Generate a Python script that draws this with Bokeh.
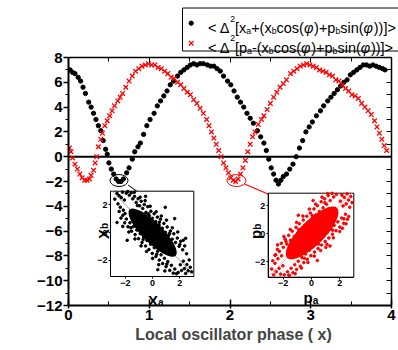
import math
from bokeh.plotting import figure
from bokeh.models import Range1d, LinearAxis, FixedTicker, ColumnDataSource, Label
from bokeh.core.properties import value, field
from bokeh.embed import file_html
from bokeh.resources import INLINE

# ---------------- data ----------------
black_x = [0.02, 0.05, 0.08, 0.12, 0.15, 0.18, 0.21, 0.25, 0.28, 0.31,
           0.34, 0.37, 0.40, 0.43, 0.46, 0.48, 0.50, 0.53, 0.56, 0.59,
           0.62, 0.65, 0.68, 0.72, 0.75, 0.79, 0.82, 0.86, 0.89, 0.93,
           0.97, 1.01, 1.06, 1.10, 1.14, 1.18, 1.22, 1.26, 1.30, 1.35,
           1.39, 1.43, 1.47, 1.51, 1.55, 1.59, 1.63, 1.67, 1.72, 1.76,
           1.80, 1.84, 1.88, 1.92, 1.97, 2.01, 2.05, 2.09, 2.13, 2.17,
           2.21, 2.25, 2.29, 2.34, 2.38, 2.42, 2.45, 2.48, 2.51, 2.54,
           2.57, 2.60, 2.63, 2.66, 2.70, 2.74, 2.78, 2.82, 2.86, 2.90,
           2.94, 2.98, 3.02, 3.07, 3.12, 3.16, 3.21, 3.25, 3.29, 3.33,
           3.37, 3.41, 3.45, 3.49, 3.53, 3.57, 3.61, 3.65, 3.69, 3.73,
           3.77, 3.81, 3.85, 3.89, 3.92]
black_y = [7.0, 6.8, 6.7, 6.4, 6.1, 5.6, 5.1, 4.4, 4.0, 3.5,
           3.0, 2.5, 2.1, 1.3, 0.6, 0.2, -0.5, -1.0, -1.4, -1.8,
           -2.0, -2.0, -1.8, -1.3, -0.9, -0.2, 0.4, 0.8, 1.1, 1.8,
           2.5, 3.0, 3.5, 4.1, 4.5, 4.9, 5.3, 5.8, 6.1, 6.5,
           6.8, 7.0, 7.2, 7.4, 7.5, 7.4, 7.5, 7.5, 7.4, 7.3,
           7.3, 7.1, 6.9, 6.5, 6.1, 5.8, 5.3, 4.8, 4.4, 4.0,
           3.5, 3.1, 2.7, 2.1, 1.6, 1.1, 0.5, -0.2, -0.9, -1.4,
           -1.9, -2.2, -1.9, -1.6, -1.4, -1.0, -0.6, 0.0, 0.7, 1.3,
           2.0, 2.4, 2.8, 3.3, 3.7, 4.1, 4.5, 4.8, 5.1, 5.4,
           5.7, 6.0, 6.2, 6.6, 6.8, 7.0, 7.2, 7.4, 7.4, 7.3,
           7.4, 7.3, 7.2, 7.1, 7.0]

red_x = [0.01, 0.03, 0.05, 0.08, 0.11, 0.14, 0.17, 0.20, 0.23, 0.26,
         0.28, 0.31, 0.33, 0.35, 0.37, 0.40, 0.42, 0.45, 0.48, 0.51,
         0.54, 0.57, 0.61, 0.64, 0.67, 0.71, 0.75, 0.79, 0.83, 0.87,
         0.91, 0.95, 0.99, 1.03, 1.07, 1.11, 1.15, 1.19, 1.23, 1.27,
         1.31, 1.35, 1.39, 1.43, 1.47, 1.51, 1.55, 1.59, 1.63, 1.67,
         1.71, 1.74, 1.77, 1.80, 1.83, 1.86, 1.89, 1.92, 1.95, 1.98,
         2.01, 2.04, 2.07, 2.10, 2.13, 2.16, 2.19, 2.22, 2.25, 2.28,
         2.31, 2.35, 2.39, 2.42, 2.46, 2.50, 2.54, 2.58, 2.62, 2.66,
         2.70, 2.75, 2.79, 2.83, 2.87, 2.91, 2.95, 2.99, 3.03, 3.07,
         3.11, 3.15, 3.19, 3.23, 3.27, 3.31, 3.35, 3.39, 3.43, 3.47,
         3.51, 3.55, 3.59, 3.63, 3.67, 3.71, 3.75, 3.79, 3.82, 3.85,
         3.88, 3.91, 3.94]
red_y = [0.7, 0.4, -0.1, -0.6, -1.0, -1.4, -1.7, -1.9, -1.9, -1.8,
         -1.5, -1.1, -0.5, 0.0, 0.8, 1.4, 1.9, 2.5, 2.9, 3.3,
         3.7, 4.1, 4.5, 4.8, 5.1, 5.6, 6.1, 6.5, 6.9, 7.1,
         7.3, 7.4, 7.5, 7.4, 7.4, 7.2, 7.1, 6.9, 6.7, 6.4,
         6.3, 6.0, 5.8, 5.5, 5.2, 5.0, 4.6, 4.3, 3.9, 3.5,
         3.0, 2.5, 2.0, 1.5, 1.0, 0.5, 0.0, -0.5, -0.9, -1.3,
         -1.7, -1.9, -2.0, -1.8, -1.4, -0.9, -0.3, 0.4, 1.0, 1.6,
         2.0, 2.6, 3.0, 3.3, 3.8, 4.3, 4.8, 5.2, 5.6, 5.9,
         6.2, 6.7, 6.9, 7.1, 7.3, 7.4, 7.5, 7.4, 7.3, 7.2,
         7.0, 6.9, 6.8, 6.6, 6.5, 6.2, 6.1, 5.8, 5.5, 5.3,
         5.0, 4.9, 4.7, 4.3, 4.0, 3.7, 3.4, 2.9, 2.4, 1.9,
         1.4, 0.9, 0.5]

x_ticks = [0, 1, 2, 3, 4]
x_minor = [0.5, 1.5, 2.5, 3.5]
y_ticks = [-12, -10, -8, -6, -4, -2, 0, 2, 4, 6, 8]
y_minor = [-11, -9, -7, -5, -3, -1, 1, 3, 5, 7]
y_right_ticks = list(range(-12, 9))
inset_ticks = [-2, 0, 2]

# inset scatter clouds: (x_a, x_b) and (p_a, p_b) -- fringe points around a dense core
inset_black_pts = [
    (-2.78, 2.41), (-2.62, 2.83), (-2.55, 2.07), (-2.47, 2.66), (-2.38, 1.83), (-2.31, 2.52),
    (-2.22, 2.91), (-2.16, 1.62), (-2.08, 2.35), (-2.03, 1.38),
    (-1.94, 2.84), (-1.83, 2.95), (-1.71, 2.69), (-1.58, 2.86), (-1.46, 2.43), (-1.33, 2.61),
    (-1.21, 2.17), (-1.07, 2.44), (-0.96, 1.93), (-0.84, 2.26), (-0.73, 1.74), (-0.61, 2.02),
    (-0.49, 1.46), (-0.36, 1.87), (-0.24, 1.21), (-0.13, 1.54), (-0.02, 1.03), (0.11, 1.36),
    (0.23, 0.79), (0.35, 1.12), (0.47, 0.55), (0.58, 0.97), (0.71, 0.32), (0.83, 0.66),
    (0.95, 0.02), (1.07, 0.41), (1.18, -0.19), (1.31, 0.12), (1.44, -0.47), (1.56, -0.08),
    (1.68, -0.71), (1.82, -0.39), (1.95, -0.98), (2.07, -0.62), (2.21, -1.23), (2.36, -0.95),
    (2.50, -1.52),
    (-2.46, 1.52), (-2.33, 1.05), (-2.19, 1.25), (-2.06, 0.71), (-1.93, 0.98), (-1.81, 0.42),
    (-1.67, 0.71), (-1.55, 0.11), (-1.41, 0.44), (-1.29, -0.14), (-1.16, 0.19), (-1.04, -0.43),
    (-0.91, -0.07), (-0.78, -0.71), (-0.66, -0.31), (-0.52, -0.96), (-0.41, -0.56), (-0.27, -1.21),
    (-0.15, -0.83), (-0.03, -1.49), (0.12, -1.08), (0.24, -1.71), (0.37, -1.34), (0.49, -1.97),
    (0.62, -1.59), (0.74, -2.22), (0.87, -1.84), (0.99, -2.44), (1.12, -2.08), (1.26, -2.71),
    (1.38, -2.35), (1.52, -2.91), (1.63, -2.61), (1.88, -2.86),
    (2.04, -2.31), (2.13, -2.72), (2.26, -2.05), (2.34, -2.58), (2.43, -2.93), (2.52, -2.29),
    (2.61, -2.74), (2.69, -1.96), (2.77, -2.49), (2.86, -2.81),
    (1.62, 1.01), (-1.87, -0.55), (0.93, 1.82), (-0.52, 2.61), (2.43, -0.41), (-2.62, 0.73),
    (0.38, -2.66),
    (-1.35, 2.90), (-0.92, 2.55), (-0.55, 2.30), (-0.18, 1.90), (0.26, 1.50), (0.64, 1.20),
    (1.02, 0.90), (1.45, 0.35), (1.85, 0.05), (2.25, -0.55), (-1.12, 1.95), (-0.30, 1.35),
    (0.50, 0.75), (1.25, -0.05), (2.00, -0.85),
    (-2.20, 0.45), (-1.75, 0.05), (-1.30, -0.45), (-0.85, -0.95), (-0.45, -1.35), (0.00, -1.85),
    (0.45, -2.30), (0.90, -2.75), (-1.60, 0.35), (-0.70, -0.50), (0.30, -1.55), (1.05, -2.25),
    (1.75, -2.95),
]
inset_red_pts = [
    (-2.81, -2.52), (-2.67, -2.93), (-2.58, -2.11), (-2.49, -2.71), (-2.37, -1.79), (-2.29, -2.47),
    (-2.18, -2.88), (-2.11, -1.58), (-2.02, -2.29), (-2.74, -1.93),
    (-2.52, -1.51), (-2.41, -1.12), (-2.27, -1.26), (-2.13, -0.69), (-1.99, -0.97), (-1.86, -0.39),
    (-1.74, -0.74), (-1.61, -0.12), (-1.48, -0.47), (-1.36, 0.18), (-1.22, -0.21), (-1.09, 0.45),
    (-0.97, 0.04), (-0.85, 0.71), (-0.72, 0.31), (-0.58, 0.97), (-0.46, 0.56), (-0.33, 1.24),
    (-0.21, 0.82), (-0.08, 1.47), (0.05, 1.07), (0.18, 1.76), (0.31, 1.33), (0.43, 1.99),
    (0.56, 1.58), (0.69, 2.27), (0.82, 1.84), (0.94, 2.48), (1.07, 2.09), (1.19, 2.71),
    (1.33, 2.36), (1.46, 2.87), (1.58, 2.61), (1.77, 2.79),
    (-1.92, -2.93), (-1.69, -2.71), (-1.55, -2.98), (-1.44, -2.46), (-1.31, -2.78), (-1.18, -2.21),
    (-1.05, -2.55), (-0.93, -1.96), (-0.79, -2.32), (-0.67, -1.71), (-0.54, -2.06), (-0.41, -1.45),
    (-0.29, -1.82), (-0.16, -1.19), (-0.04, -1.57), (0.09, -0.94), (0.22, -1.31), (0.34, -0.69),
    (0.47, -1.06), (0.59, -0.43), (0.72, -0.81), (0.85, -0.18), (0.97, -0.55), (1.11, 0.08),
    (1.23, -0.31), (1.36, 0.33), (1.49, -0.04), (1.61, 0.59), (1.74, 0.21), (1.87, 0.84),
    (2.01, 0.47), (2.14, 1.11), (2.28, 0.73), (2.41, 1.38), (2.55, 1.02),
    (2.05, 2.31), (2.16, 2.74), (2.24, 1.97), (2.33, 2.58), (2.46, 2.12), (2.52, 2.83),
    (2.63, 2.39), (2.71, 1.88), (2.79, 2.64), (2.88, 2.21),
    (0.42, -1.91), (1.31, -0.88), (2.19, 0.38), (2.64, 1.22), (-0.93, 1.31), (-2.58, -1.53),
    (0.12, 2.36), (1.02, -0.98),
    (-2.40, -0.80), (-1.95, -0.20), (-1.50, 0.30), (-1.05, 0.80), (-0.60, 1.25), (-0.15, 1.75),
    (0.30, 2.10), (0.75, 2.60), (1.15, 2.85), (-1.80, -0.55), (-0.90, 0.30), (0.05, 1.30),
    (0.95, 2.20),
    (-1.60, -2.95), (-1.15, -2.85), (-0.70, -2.45), (-0.25, -2.05), (0.20, -1.60), (0.65, -1.20),
    (1.10, -0.75), (1.55, -0.30), (2.00, 0.15), (2.45, 0.70), (-0.50, -1.75), (0.50, -0.75),
    (1.50, 0.25), (2.30, 1.05),
]
# dense core of each cloud: centre x, centre y, full length along / across the correlation axis
inset_black_core = [0.0, 0.0, 4.8, 1.45]
inset_red_core = [0.05, 0.05, 5.0, 1.75]

legend_row1 = [("< \u0394", "n"), ("2", "sup"), ("[x", "n"), ("a", "sub"), ("+(x", "n"), ("b", "sub"),
               ("cos(", "n"), ("\u03c6", "it"), (")+p", "n"), ("b", "sub"), ("sin(", "n"),
               ("\u03c6", "it"), ("))]>", "n")]
legend_row2 = [("< \u0394", "n"), ("2", "sup"), ("[p", "n"), ("a", "sub"), ("-(x", "n"), ("b", "sub"),
               ("cos(", "n"), ("\u03c6", "it"), (")+p", "n"), ("b", "sub"), ("sin(", "n"),
               ("\u03c6", "it"), ("))]>", "n")]

FONT = "Liberation Sans"

# ---------------- layout (picture pixels) ----------------
W, H = 398, 350
FRAME_L, FRAME_R, FRAME_T, FRAME_B = 68.0, 398.0, 0.0, 305.0
X0_PX, X4_PX = 68.0, 391.0      # phase 0 and 4
YB_PX, YT_PX = 305.0, 57.0      # -12 dB and 8 dB


def span_range(v0, p0, v1, p1, lo, hi):
    k = (v1 - v0) / (p1 - p0)
    return Range1d(start=v0 + (lo - p0) * k, end=v0 + (hi - p0) * k)


def px(page_x):
    return x_ticks[0] + (page_x - X0_PX) * (x_ticks[-1] - x_ticks[0]) / (X4_PX - X0_PX)


def py(page_y):
    return y_ticks[0] + (YB_PX - page_y) * (y_ticks[-1] - y_ticks[0]) / (YB_PX - YT_PX)


x_range = span_range(x_ticks[0], X0_PX, x_ticks[-1], X4_PX, FRAME_L, FRAME_R)
y_range = span_range(y_ticks[0], -YB_PX, y_ticks[-1], -YT_PX, -FRAME_B, -FRAME_T)

p = figure(width=W, height=H, x_range=x_range, y_range=y_range,
           output_backend="svg", toolbar_location=None, title=None,
           min_border_left=int(FRAME_L), min_border_right=0, min_border_top=0,
           min_border_bottom=int(H - FRAME_B),
           outline_line_color=None, background_fill_color="white", border_fill_color="white")
p.xgrid.visible = False
p.ygrid.visible = False

xa = p.below[0]
ya = p.left[0]


def style_labels(ax, size, bold=True):
    ax.major_label_text_font = FONT
    ax.major_label_text_font_size = size
    ax.major_label_text_font_style = "bold" if bold else "normal"
    ax.major_label_text_color = "black"


xa.ticker = FixedTicker(ticks=x_ticks, minor_ticks=x_minor)
xa.bounds = (x_ticks[0], x_ticks[-1])
xa.axis_line_width = 2
xa.major_tick_line_width = 1.5
xa.major_tick_in, xa.major_tick_out = 6, 3
xa.minor_tick_in, xa.minor_tick_out = 4, 0
style_labels(xa, "15px")
xa.major_label_standoff = 1
xa.axis_label = "Local oscillator phase ( x)"
xa.axis_label_text_font = FONT
xa.axis_label_text_font_size = "16px"
xa.axis_label_text_font_style = "bold"
xa.axis_label_standoff = 3

ya.ticker = FixedTicker(ticks=y_ticks, minor_ticks=y_minor)
ya.bounds = (y_ticks[0], y_ticks[-1])
ya.axis_line_width = 2
ya.major_tick_line_width = 1.5
ya.major_tick_in, ya.major_tick_out = 0, 5
ya.minor_tick_in, ya.minor_tick_out = 0, 3
style_labels(ya, "15px")
ya.major_label_standoff = 1

top = LinearAxis(fixed_location=y_ticks[-1], bounds=(x_ticks[0], x_ticks[-1]),
                 ticker=FixedTicker(ticks=x_ticks, minor_ticks=x_minor),
                 major_tick_in=5, major_tick_out=0, minor_tick_in=4, minor_tick_out=0,
                 major_label_text_color=None, major_label_text_font_size="0px",
                 axis_line_width=1.5)
p.add_layout(top, "above")
right = LinearAxis(fixed_location=x_ticks[-1], bounds=(y_ticks[0], y_ticks[-1]),
                   ticker=FixedTicker(ticks=y_right_ticks, minor_ticks=[]),
                   major_tick_in=5, major_tick_out=0, minor_tick_in=0, minor_tick_out=0,
                   major_label_text_color=None, major_label_text_font_size="0px",
                   axis_line_width=1.5)
p.add_layout(right, "right")

# zero line
p.segment(x0=[x_ticks[0]], y0=[0], x1=[x_ticks[-1]], y1=[0], line_color="black", line_width=2)

# main series
p.scatter(black_x, black_y, marker="circle", size=4.3, color="black")
p.scatter(red_x, red_y, marker="x", size=6.5, line_color="red", line_width=1.3)

# circles marking the minima, and connector lines
p.ellipse(x=[px(118.5)], y=[py(180)], width=18, height=12, width_units="screen",
          height_units="screen", fill_color=None, line_color="black", line_width=1)
p.ellipse(x=[px(236)], y=[py(180)], width=19, height=12, width_units="screen",
          height_units="screen", fill_color=None, line_color="red", line_width=1)
p.segment(x0=[px(127.5)], y0=[py(184.5)], x1=[px(137.5)], y1=[py(191.5)],
          line_color="black", line_width=1)
p.segment(x0=[px(244)], y0=[py(183.5)], x1=[px(267.5)], y1=[py(193.5)],
          line_color="red", line_width=1.2)

# ---------------- insets ----------------
INSETS = [
    dict(name="a", box=(110.0, 193.3, 190.7, 276.0), xr=(-3.1, 3.03), yr=(-3.15, 2.98),
         pts=inset_black_pts, core=inset_black_core, angle=-math.pi / 4, slope=-1,
         color="black", diag="#8a8a8a"),
    dict(name="b", box=(267.7, 353.3, 192.7, 276.7), xr=(-3.06, 3.0), yr=(-3.1, 2.88),
         pts=inset_red_pts, core=inset_red_core, angle=math.pi / 4, slope=1,
         color="red", diag="#f0a0a0"),
]

for ins in INSETS:
    l, r, t, b = ins["box"]
    xr0, xr1 = ins["xr"]
    yr0, yr1 = ins["yr"]
    xn, yn = "ix" + ins["name"], "iy" + ins["name"]
    p.extra_x_ranges[xn] = span_range(xr0, l, xr1, r, FRAME_L, FRAME_R)
    p.extra_y_ranges[yn] = span_range(yr0, -b, yr1, -t, -FRAME_B, -FRAME_T)
    kw = dict(x_range_name=xn, y_range_name=yn)
    p.quad(left=[xr0], right=[xr1], bottom=[yr0], top=[yr1], fill_color="white",
           line_color="black", line_width=1, **kw)
    s = ins["slope"]
    if s < 0:
        t0, t1 = max(xr0, -yr1), min(xr1, -yr0)
    else:
        t0, t1 = max(xr0, yr0), min(xr1, yr1)
    p.line([t0, t1], [s * t0, s * t1], line_color=ins["diag"], line_width=0.8, **kw)
    cx, cy, cw, ch = ins["core"]
    p.ellipse(x=[cx], y=[cy], width=cw, height=ch, angle=ins["angle"],
              fill_color=ins["color"], line_color=None, **kw)
    xs = [q[0] for q in ins["pts"]]
    ys = [q[1] for q in ins["pts"]]
    p.scatter(xs, ys, marker="circle", size=2.6, color=ins["color"], **kw)
    for side, loc, bnd in (("below", yr0, (xr0, xr1)), ("left", xr0, (yr0, yr1))):
        ax = LinearAxis(fixed_location=loc, bounds=bnd,
                        ticker=FixedTicker(ticks=inset_ticks, minor_ticks=[]),
                        major_tick_in=0, major_tick_out=2, minor_tick_in=0, minor_tick_out=0,
                        major_label_standoff=1, axis_line_width=1, major_tick_line_width=1, **kw)
        style_labels(ax, "9px")
        p.add_layout(ax, side)

# ---------------- legend box and marks ----------------
p.quad(left=[px(182)], right=[px(430)], top=[py(7.5)], bottom=[py(50.5)],
       fill_color="white", line_color="black", line_width=1)
p.scatter([px(190.7)], [py(22.7)], marker="circle", size=4.3, color="black")
p.scatter([px(190.7)], [py(42.7)], marker="x", size=6.5, line_color="red", line_width=1.3)

# ---------------- rich text (sub/superscripts) ----------------
W_REG = {'<': .584, ' ': .278, '\u0394': .667, '[': .278, 'x': .5, '+': .584, '(': .333,
         ')': .333, 'c': .5, 'o': .556, 's': .5, 'p': .556, 'i': .222, 'n': .556, ']': .278,
         '-': .333, '>': .584, '2': .556, 'a': .556, 'b': .556, '\u03c6': .70}
W_BOLD = {'X': .667, 'p': .611, 'a': .556, 'b': .611}

rows = dict(x=[], y=[], text=[], xo=[], yo=[], fs=[], st=[], ang=[])


def rich(pieces, ax_px, ay_px, angle, big, small, bold, shifts):
    adv = 0.0
    tbl = W_BOLD if bold else W_REG
    for txt, kind in pieces:
        size = small if kind in ("sub", "sup") else big
        sh = shifts.get(kind, 0.0)
        if angle == 0:
            xo, yo = adv, sh
        else:
            xo, yo = sh, -adv
        rows["x"].append(px(ax_px))
        rows["y"].append(py(ay_px))
        rows["text"].append(txt)
        rows["xo"].append(xo)
        rows["yo"].append(yo)
        rows["fs"].append("%gpx" % size)
        st = "bold" if bold else "normal"
        if kind == "it":
            st = "bold italic" if bold else "italic"
        rows["st"].append(st)
        rows["ang"].append(angle)
        adv += sum(tbl.get(c, .556) for c in txt) * size


rich(legend_row1, 207.5, 27.7, 0.0, 14.5, 8.7, False, {"sup": -9.5, "sub": 3})
rich(legend_row2, 207.5, 47.2, 0.0, 14.5, 8.7, False, {"sup": -9.5, "sub": 3})
rich([("X", "n"), ("a", "sub")], 147.5, 300.0, 0.0, 15, 10, True, {"sub": 1.5})
rich([("X", "n"), ("b", "sub")], 103.0, 238.5, math.pi / 2, 15, 10, True, {"sub": 1.0})
rich([("p", "n"), ("a", "sub")], 303.0, 296.5, 0.0, 15, 10, True, {"sub": 3.5})
rich([("p", "n"), ("b", "sub")], 255.0, 238.5, math.pi / 2, 15, 10, True, {"sub": 2.0})

src = ColumnDataSource(rows)
p.text(x="x", y="y", text="text", x_offset="xo", y_offset="yo", angle=field("ang"),
       text_font=value(FONT), text_font_size=field("fs"), text_font_style=field("st"),
       text_color="black", text_align="left", text_baseline="alphabetic", source=src)

# y axis title and a stray subscript seen in the original
p.add_layout(Label(x=px(21), y=py(215), text="Quantum correlation (dB)", angle=math.pi / 2,
                   text_align="center", text_baseline="middle", text_font=FONT,
                   text_font_size="17px", text_font_style="bold", text_color="black"))
p.add_layout(Label(x=px(326), y=py(309.5), text="a", text_align="center",
                   text_baseline="middle", text_font=FONT, text_font_size="8px",
                   text_font_style="bold", text_color="black"))

open("out.html", "w").write(file_html(p, INLINE))
